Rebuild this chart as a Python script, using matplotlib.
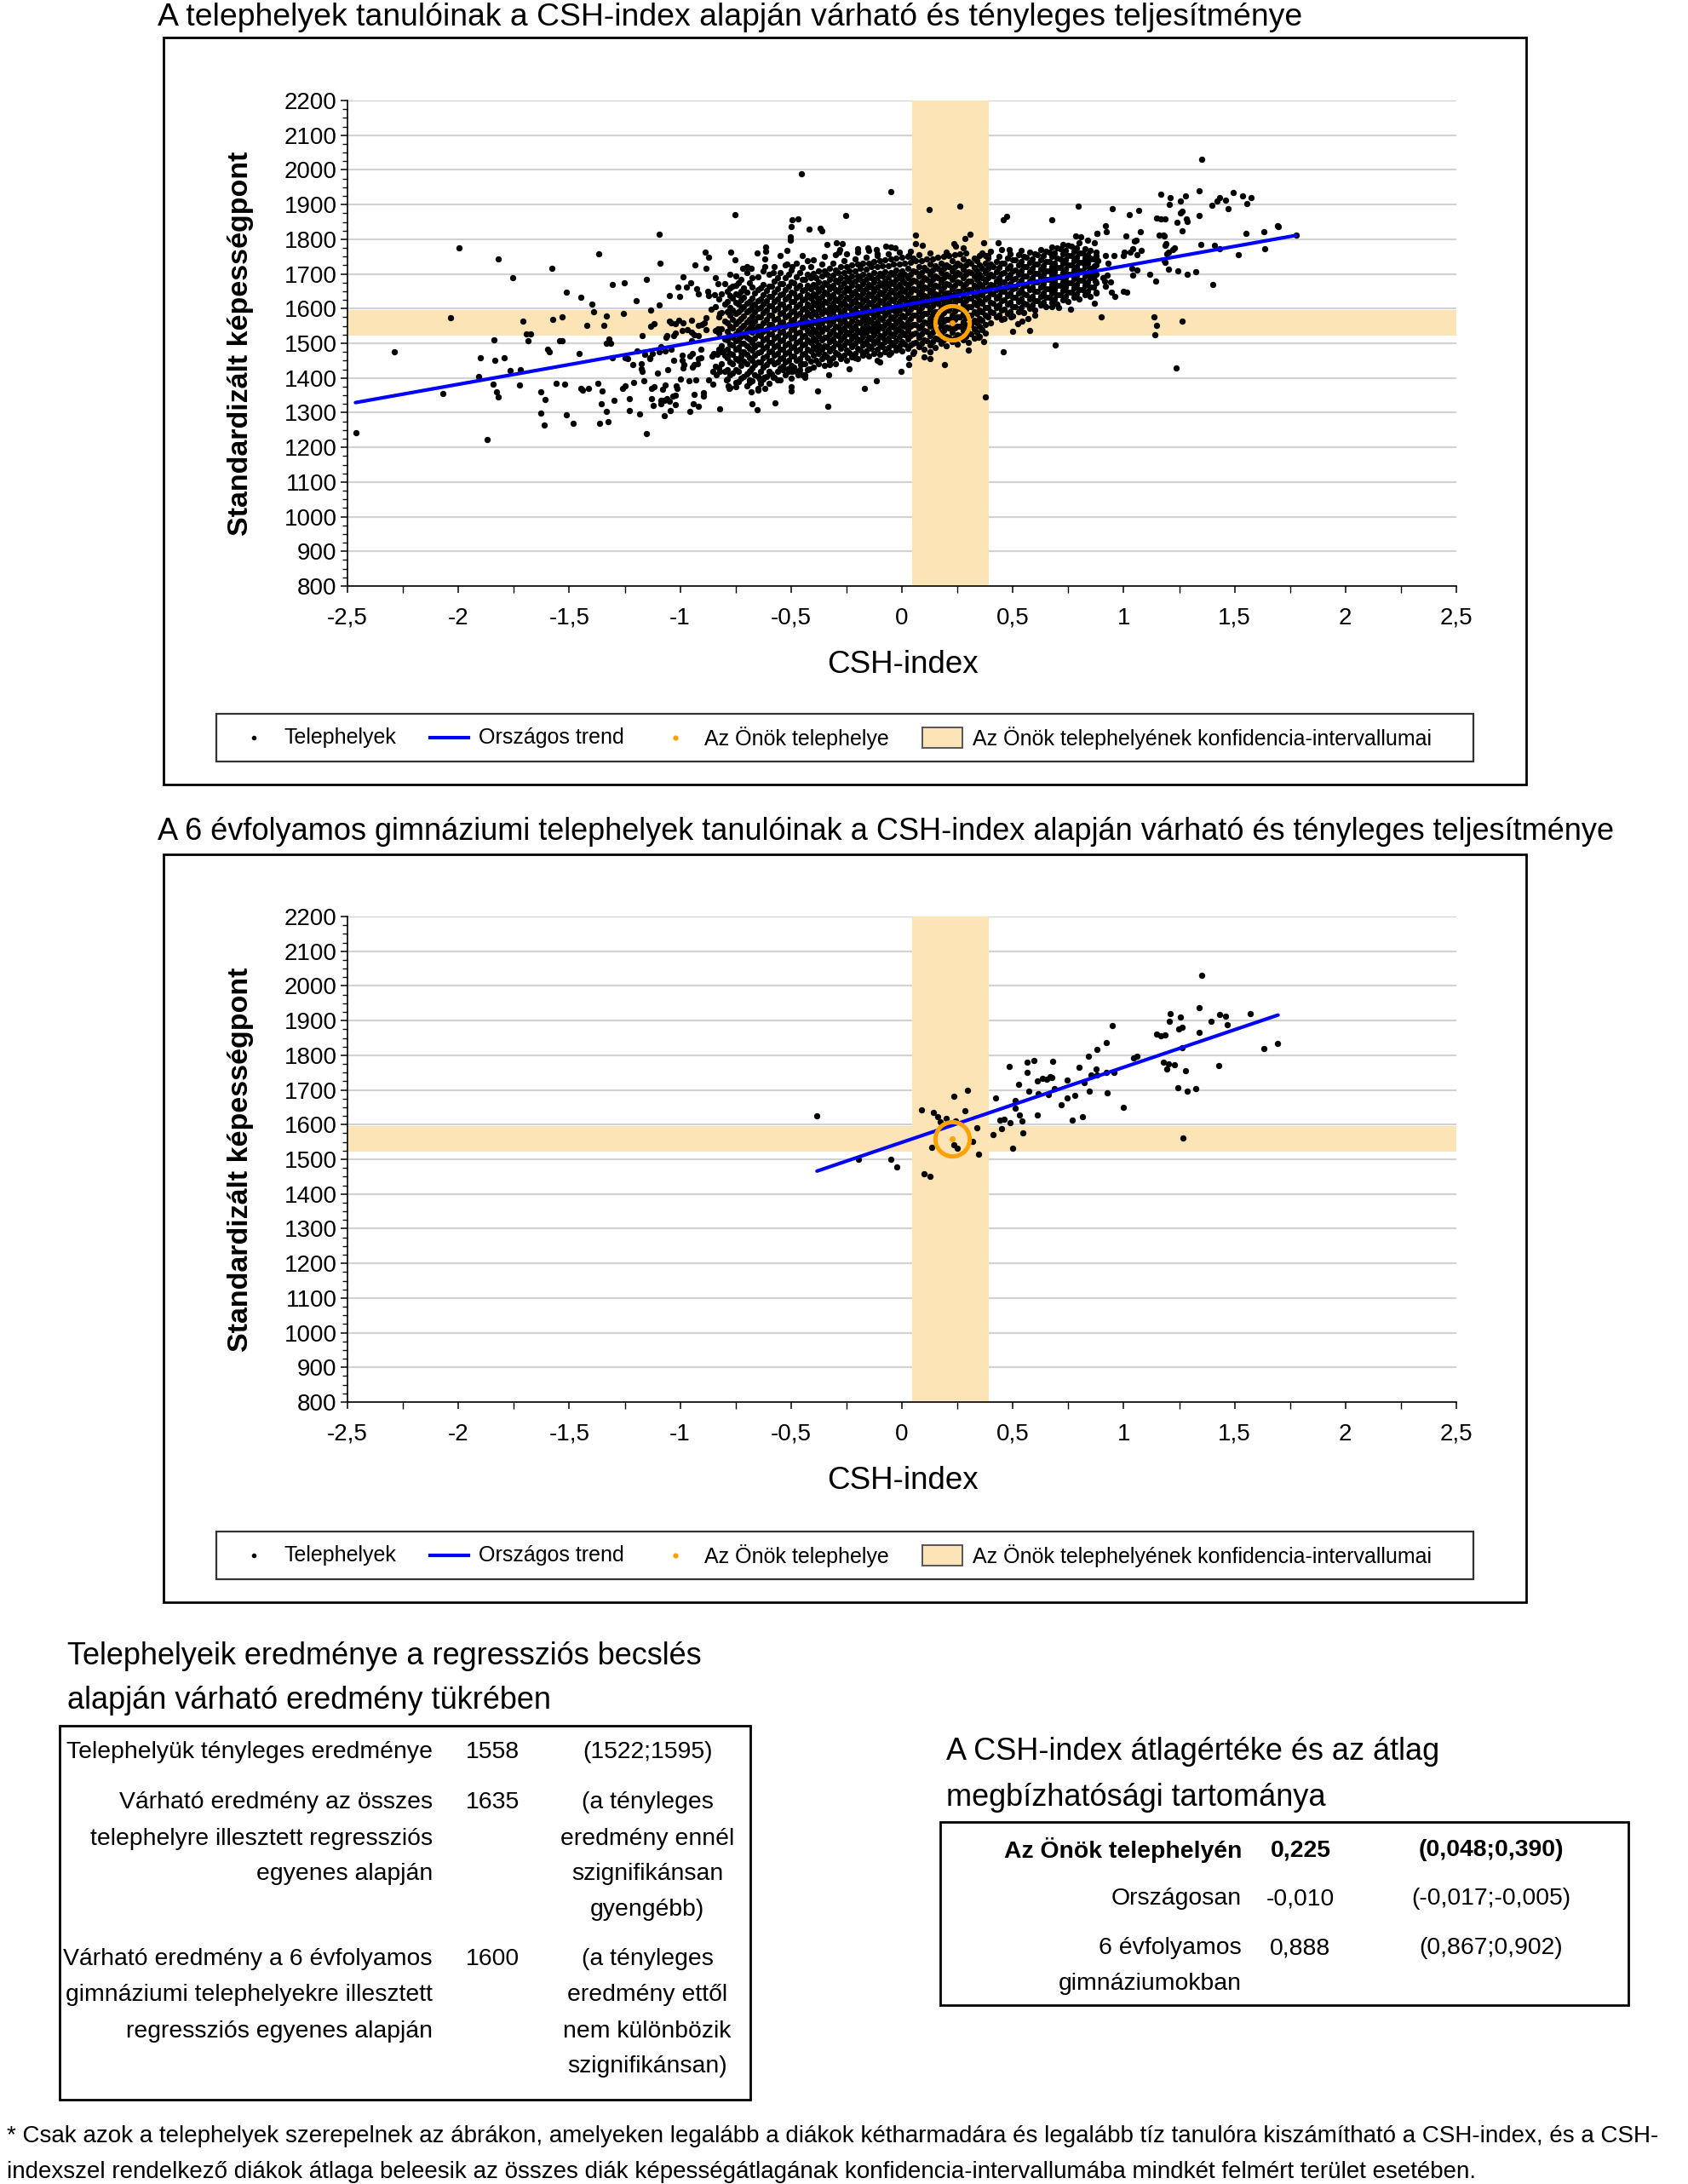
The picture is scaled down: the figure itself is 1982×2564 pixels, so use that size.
import matplotlib

matplotlib.use("Agg")
import matplotlib.pyplot as plt
from matplotlib.patches import Rectangle
from matplotlib.ticker import MultipleLocator, FuncFormatter

plt.rcParams["font.family"] = ["Liberation Sans", "DejaVu Sans"]

# ---- data ------------------------------------------------------------------
OWN_X, OWN_Y = 0.225, 1558          # the school's own site
CI_X = (0.048, 0.390)               # CSH-index confidence interval
CI_Y = (1522, 1595)                 # score confidence interval

trend_all_x = [-2.464, 1.777]       # national trend line end points
trend_all_y = [1329, 1811]
trend_gym_x = [-0.383, 1.696]       # 6-year gymnasium trend line
trend_gym_y = [1466, 1916]

sites_far_west = [
    (-1.997, 1775), (-1.820, 1742), (-1.756, 1688), (-2.035, 1573), (-1.708, 1563),
    (-1.692, 1528), (-1.676, 1528), (-1.687, 1508), (-1.839, 1509), (-2.290, 1475),
    (-1.902, 1458), (-1.834, 1452), (-1.795, 1459), (-1.767, 1422), (-1.721, 1424),
    (-1.910, 1403), (-1.843, 1383), (-1.724, 1379), (-2.070, 1355), (-1.827, 1360),
    (-1.822, 1346), (-2.460, 1243), (-1.870, 1223),
]

sites_west = [
    (-1.577, 1715), (-1.366, 1759), (-1.093, 1815), (-1.091, 1731), (-0.886, 1762),
    (-0.872, 1747), (-0.935, 1725), (-0.883, 1715), (-0.988, 1691), (-0.841, 1688),
    (-0.831, 1672), (-1.151, 1684), (-1.512, 1647), (-1.306, 1669), (-1.251, 1674),
    (-1.447, 1633), (-1.399, 1613), (-1.391, 1590), (-1.199, 1622), (-1.093, 1610),
    (-1.132, 1597), (-1.047, 1638), (-1.011, 1661), (-1.002, 1636), (-0.972, 1662),
    (-0.954, 1674), (-0.924, 1657), (-0.918, 1643), (-0.874, 1650), (-0.872, 1637),
    (-0.846, 1639), (-0.860, 1598), (-0.840, 1605), (-0.820, 1587), (-1.573, 1568),
    (-1.531, 1577), (-1.420, 1551), (-1.345, 1551), (-1.333, 1578), (-1.254, 1587),
    (-1.132, 1549), (-1.119, 1556), (-1.050, 1565), (-1.042, 1559), (-1.022, 1556),
    (-1.007, 1567), (-0.986, 1559), (-0.949, 1567), (-0.918, 1552), (-0.901, 1555),
    (-0.883, 1573), (-0.891, 1560), (-0.990, 1537), (-0.969, 1539), (-0.950, 1533),
    (-0.937, 1524), (-0.918, 1523), (-0.882, 1539), (-0.841, 1537), (-0.831, 1541),
    (-1.059, 1523), (-1.065, 1516), (-1.029, 1521), (-1.020, 1529), (-1.170, 1523),
    (-1.320, 1512), (-1.333, 1500), (-1.315, 1500), (-1.545, 1508), (-1.532, 1508),
    (-1.599, 1483), (-1.590, 1475), (-1.455, 1470), (-1.304, 1459), (-1.248, 1459),
    (-1.238, 1455), (-1.196, 1477), (-1.161, 1467), (-1.135, 1455), (-1.126, 1471),
    (-1.093, 1475), (-1.088, 1489), (-1.068, 1478), (-1.039, 1483), (-1.213, 1438),
    (-1.176, 1442), (-1.174, 1426), (-1.170, 1420), (-1.138, 1459), (-1.103, 1415),
    (-1.055, 1424), (-1.031, 1451), (-0.992, 1465), (-0.991, 1451), (-0.984, 1438),
    (-0.988, 1430), (-0.956, 1463), (-0.943, 1471), (-0.936, 1438), (-0.946, 1431),
    (-0.922, 1442), (-0.918, 1455), (-0.908, 1459), (-0.905, 1483), (-0.950, 1508),
    (-0.856, 1463), (-0.847, 1471), (-0.835, 1467), (-0.824, 1483), (-0.815, 1475),
    (-0.808, 1477), (-0.841, 1434), (-0.854, 1418), (-0.837, 1410), (-0.821, 1418),
    (-0.872, 1395), (-0.854, 1381), (-0.822, 1311), (-1.558, 1385), (-1.519, 1383),
    (-1.448, 1369), (-1.440, 1365), (-1.415, 1369), (-1.370, 1385), (-1.351, 1362),
    (-1.356, 1325), (-1.331, 1303), (-1.325, 1273), (-1.363, 1269), (-1.298, 1336),
    (-1.627, 1359), (-1.608, 1339), (-1.627, 1299), (-1.612, 1264), (-1.513, 1293),
    (-1.481, 1269), (-1.258, 1370), (-1.248, 1378), (-1.210, 1387), (-1.229, 1340),
    (-1.228, 1305), (-1.181, 1296), (-1.165, 1391), (-1.151, 1239), (-1.128, 1370),
    (-1.119, 1375), (-1.080, 1367), (-1.068, 1379), (-1.130, 1340), (-1.120, 1321),
    (-1.087, 1336), (-1.087, 1326), (-1.071, 1336), (-1.059, 1340), (-1.050, 1332),
    (-1.032, 1348), (-1.023, 1351), (-1.046, 1307), (-1.071, 1292), (-1.020, 1323),
    (-1.016, 1377), (-1.014, 1369), (-0.998, 1397), (-0.959, 1391), (-0.931, 1395),
    (-0.937, 1352), (-0.941, 1326), (-0.918, 1319), (-0.956, 1303), (-0.896, 1358),
    (-0.895, 1348),
]

sites_mid = [
    (-0.453, 1988), (-0.051, 1938), (-0.751, 1871), (-0.255, 1868), (-0.495, 1857),
    (-0.467, 1859), (-0.501, 1836), (-0.502, 1807), (-0.504, 1798), (-0.419, 1828),
    (-0.367, 1832), (-0.361, 1824), (-0.771, 1762), (-0.751, 1740), (-0.654, 1760),
    (-0.616, 1777), (-0.616, 1765), (-0.617, 1743), (-0.620, 1721), (-0.549, 1752),
    (-0.518, 1768), (-0.448, 1754), (-0.339, 1785), (-0.296, 1791), (-0.280, 1770),
    (-0.269, 1788), (-0.283, 1764), (-0.198, 1773), (-0.155, 1775), (-0.115, 1769),
    (-0.111, 1758), (-0.073, 1780), (-0.029, 1776), (0.029, 1754), (-0.718, 1715),
    (-0.700, 1720), (-0.680, 1717), (-0.579, 1705), (-0.495, 1721), (-0.517, 1729),
    (-0.675, 1326), (-0.652, 1309), (-0.572, 1329), (-0.334, 1319), (-0.380, 1362),
    (-0.501, 1362), (-0.498, 1375), (-0.170, 1370), (-0.116, 1393), (-0.004, 1420),
    (0.029, 1438), (-0.790, 1395), (-0.783, 1377), (-0.780, 1370), (-0.749, 1375),
    (-0.685, 1422), (-0.687, 1387), (-0.681, 1360), (-0.649, 1370), (-0.617, 1369),
    (-0.643, 1397), (-0.621, 1401), (-0.579, 1401), (-0.559, 1395), (-0.538, 1434),
    (-0.515, 1426), (-0.495, 1418), (-0.467, 1410), (-0.438, 1401), (-0.438, 1410),
    (-0.457, 1438), (-0.419, 1426), (-0.329, 1410), (-0.325, 1438), (-0.239, 1426),
    (-0.210, 1459), (-0.175, 1467), (-0.111, 1451), (-0.099, 1447), (-0.056, 1467),
    (-0.022, 1483),
]

sites_band = [
    (0.122, 1885), (0.262, 1896), (0.060, 1813), (0.063, 1787), (0.093, 1783),
    (0.234, 1787), (0.241, 1780), (0.285, 1801), (0.307, 1815), (0.369, 1791),
    (0.362, 1760), (0.375, 1752), (0.388, 1752), (0.193, 1438), (0.298, 1480),
    (0.375, 1346), (0.347, 1518), (0.369, 1505), (0.029, 1459), (0.055, 1475),
    (0.100, 1460), (0.125, 1455), (0.125, 1475), (0.458, 1856), (0.471, 1865),
    (0.676, 1856), (0.794, 1896), (0.691, 1494), (0.456, 1475), (0.500, 1534),
    (0.576, 1537), (0.522, 1557), (0.541, 1565), (0.567, 1572), (0.599, 1582),
    (0.461, 1572), (0.490, 1575), (0.759, 1598), (0.708, 1602), (0.676, 1606),
    (0.435, 1789), (0.484, 1770), (0.785, 1810), (0.808, 1807), (0.838, 1797),
    (0.878, 1817),
]

sites_east = [
    (1.353, 2030), (1.166, 1929), (1.210, 1921), (1.207, 1900), (1.277, 1926),
    (1.254, 1910), (1.256, 1877), (1.262, 1880), (1.339, 1940), (1.339, 1869),
    (1.396, 1899), (1.421, 1910), (1.434, 1920), (1.458, 1913), (1.493, 1934),
    (1.469, 1889), (1.537, 1925), (1.573, 1921), (1.555, 1904), (0.949, 1887),
    (1.024, 1872), (1.066, 1882), (1.149, 1862), (1.169, 1859), (1.185, 1859),
    (1.239, 1848), (1.281, 1859), (1.288, 1852), (1.262, 1824), (1.550, 1817),
    (1.632, 1822), (1.693, 1838), (1.635, 1772), (1.517, 1756), (1.402, 1669),
    (1.431, 1773), (1.409, 1783), (1.347, 1785), (1.288, 1700), (1.326, 1707),
    (1.245, 1708), (1.202, 1713), (1.185, 1733), (1.184, 1738), (1.194, 1758),
    (1.201, 1764), (1.230, 1775), (1.220, 1769), (1.188, 1783), (1.182, 1810),
    (1.160, 1813), (1.178, 1811), (1.192, 1787), (1.117, 1699), (1.144, 1679),
    (1.010, 1809), (1.047, 1795), (1.057, 1797), (1.074, 1822), (1.041, 1772),
    (1.030, 1764), (1.060, 1756), (1.080, 1768), (1.001, 1764), (0.997, 1752),
    (1.038, 1715), (1.061, 1712), (1.042, 1697), (0.998, 1651), (1.013, 1648),
    (0.956, 1753), (0.919, 1838), (0.922, 1822), (0.879, 1817), (0.868, 1791),
    (0.877, 1762), (0.849, 1746), (0.882, 1738), (0.877, 1747), (0.867, 1724),
    (0.919, 1754), (0.931, 1731), (0.849, 1705), (0.870, 1699), (0.908, 1688),
    (0.925, 1697), (0.873, 1679), (0.915, 1680), (0.942, 1676), (0.918, 1664),
    (0.946, 1647), (0.961, 1636), (0.876, 1645), (0.869, 1616), (0.900, 1577),
    (1.138, 1576), (1.148, 1552), (1.142, 1524), (1.265, 1565), (1.235, 1429),
    (1.697, 1836), (1.777, 1811),
]

# dense part of the cloud, read column by column (x, scores)
cloud_west = [
    (-0.825, (1430, 1478, 1530, 1575, 1628)),
    (-0.800, (1418, 1465, 1512, 1565, 1612, 1672)),
    (-0.775, (1372, 1408, 1447, 1470, 1498, 1522, 1548, 1580, 1603, 1638, 1660, 1700)),
    (-0.750, (1388, 1425, 1455, 1483, 1507, 1528, 1557, 1585, 1618, 1642, 1668, 1695)),
    (-0.725, (1400, 1435, 1462, 1475, 1500, 1520, 1545, 1572, 1598, 1625, 1650, 1683)),
    (-0.700, (1378, 1412, 1440, 1468, 1492, 1518, 1538, 1562, 1592, 1615, 1648, 1705)),
    (-0.675, (1392, 1428, 1450, 1480, 1503, 1532, 1555, 1578, 1606, 1630, 1662, 1688)),
    (-0.650, (1365, 1405, 1445, 1472, 1497, 1525, 1550, 1575, 1600, 1622, 1655, 1692)),
    (-0.625, (1398, 1432, 1458, 1486, 1510, 1535, 1560, 1588, 1612, 1640, 1670, 1710)),
    (-0.600, (1385, 1418, 1448, 1476, 1502, 1527, 1553, 1580, 1608, 1635, 1665, 1698)),
    (-0.575, (1402, 1440, 1465, 1490, 1515, 1542, 1568, 1595, 1620, 1648, 1680, 1720)),
    (-0.550, (1395, 1428, 1455, 1482, 1508, 1533, 1560, 1585, 1614, 1640, 1672, 1705)),
    (-0.525, (1410, 1445, 1470, 1496, 1522, 1548, 1575, 1600, 1628, 1655, 1688, 1725)),
    (-0.500, (1400, 1435, 1462, 1488, 1514, 1540, 1566, 1592, 1620, 1648, 1678, 1712)),
    (-0.475, (1418, 1450, 1478, 1503, 1530, 1555, 1580, 1606, 1632, 1660, 1692, 1730)),
    (-0.450, (1408, 1440, 1468, 1495, 1520, 1546, 1572, 1598, 1625, 1652, 1685, 1718)),
    (-0.425, (1425, 1458, 1484, 1510, 1536, 1562, 1588, 1614, 1640, 1668, 1700, 1738)),
]

cloud_centre = [
    (-0.400, (1432, 1465, 1490, 1515, 1540, 1565, 1590, 1617, 1643, 1670, 1702, 1740)),
    (-0.375, (1440, 1470, 1496, 1522, 1547, 1572, 1598, 1623, 1650, 1677, 1708)),
    (-0.350, (1435, 1467, 1493, 1518, 1544, 1570, 1595, 1620, 1647, 1675, 1710, 1750)),
    (-0.325, (1448, 1478, 1504, 1528, 1553, 1578, 1604, 1630, 1656, 1684, 1715)),
    (-0.300, (1442, 1473, 1500, 1525, 1550, 1576, 1602, 1628, 1654, 1682, 1712, 1755)),
    (-0.275, (1455, 1485, 1510, 1535, 1560, 1585, 1610, 1636, 1662, 1690, 1720)),
    (-0.250, (1450, 1480, 1506, 1532, 1557, 1582, 1607, 1633, 1660, 1688, 1722, 1758)),
    (-0.225, (1460, 1490, 1515, 1540, 1565, 1590, 1615, 1640, 1666, 1694, 1725)),
    (-0.200, (1455, 1486, 1512, 1537, 1562, 1588, 1613, 1638, 1665, 1693, 1728, 1762)),
    (-0.175, (1465, 1495, 1520, 1545, 1570, 1595, 1620, 1645, 1671, 1698, 1730)),
    (-0.150, (1462, 1492, 1518, 1543, 1568, 1593, 1618, 1643, 1670, 1697, 1732, 1768)),
    (-0.125, (1470, 1500, 1525, 1550, 1575, 1600, 1625, 1650, 1676, 1703, 1735)),
    (-0.100, (1468, 1497, 1522, 1548, 1573, 1598, 1623, 1648, 1675, 1702, 1738)),
    (-0.075, (1475, 1504, 1530, 1555, 1580, 1605, 1630, 1655, 1680, 1707, 1740)),
    (-0.050, (1472, 1502, 1527, 1552, 1577, 1602, 1628, 1653, 1678, 1705, 1742, 1778)),
    (-0.025, (1480, 1508, 1534, 1558, 1584, 1609, 1634, 1659, 1684, 1712, 1745)),
    (0.000, (1478, 1506, 1532, 1557, 1582, 1607, 1632, 1657, 1683, 1710, 1748)),
    (0.025, (1485, 1512, 1538, 1562, 1588, 1612, 1638, 1662, 1688, 1715, 1750)),
    (0.050, (1470, 1500, 1528, 1555, 1580, 1605, 1630, 1656, 1682, 1710, 1745)),
    (0.075, (1490, 1518, 1543, 1568, 1593, 1618, 1643, 1668, 1694, 1722, 1755)),
    (0.100, (1482, 1510, 1536, 1562, 1587, 1612, 1637, 1662, 1690, 1718)),
    (0.125, (1495, 1522, 1548, 1572, 1598, 1622, 1648, 1673, 1700, 1728, 1760)),
    (0.150, (1488, 1515, 1542, 1566, 1592, 1617, 1642, 1667, 1695, 1724)),
    (0.175, (1500, 1526, 1552, 1577, 1602, 1627, 1652, 1678, 1704, 1732)),
    (0.200, (1492, 1520, 1546, 1570, 1596, 1621, 1646, 1672, 1698, 1727, 1762)),
    (0.225, (1505, 1532, 1557, 1582, 1607, 1632, 1657, 1683, 1710, 1738)),
    (0.250, (1498, 1525, 1550, 1575, 1600, 1625, 1650, 1676, 1703, 1730)),
    (0.275, (1510, 1537, 1562, 1587, 1612, 1637, 1662, 1688, 1714, 1742, 1774)),
    (0.300, (1502, 1530, 1555, 1580, 1605, 1630, 1655, 1680, 1707, 1735)),
    (0.325, (1515, 1542, 1567, 1592, 1617, 1642, 1667, 1693, 1718, 1746)),
    (0.350, (1520, 1548, 1572, 1597, 1622, 1647, 1672, 1698, 1725, 1752)),
    (0.375, (1530, 1555, 1580, 1604, 1628, 1652, 1677, 1703, 1730)),
]

cloud_east = [
    (0.400, (1560, 1590, 1618, 1645, 1670, 1698, 1728, 1765)),
    (0.425, (1575, 1602, 1630, 1655, 1680, 1706, 1735)),
    (0.450, (1568, 1596, 1624, 1650, 1676, 1702, 1730, 1770)),
    (0.475, (1585, 1612, 1638, 1663, 1690, 1716, 1745)),
    (0.500, (1578, 1605, 1632, 1658, 1684, 1710, 1740)),
    (0.525, (1592, 1620, 1646, 1672, 1698, 1725, 1755)),
    (0.550, (1588, 1615, 1642, 1668, 1694, 1720, 1750)),
    (0.575, (1600, 1628, 1654, 1680, 1706, 1733, 1762)),
    (0.600, (1595, 1622, 1650, 1676, 1702, 1728, 1758)),
    (0.625, (1610, 1636, 1662, 1688, 1714, 1740, 1770)),
    (0.650, (1605, 1632, 1658, 1684, 1710, 1736, 1765)),
    (0.675, (1618, 1645, 1670, 1696, 1722, 1750, 1778)),
    (0.700, (1612, 1640, 1666, 1692, 1718, 1745, 1775)),
    (0.725, (1625, 1652, 1678, 1704, 1730, 1757, 1785)),
    (0.750, (1620, 1648, 1675, 1700, 1726, 1752, 1782)),
    (0.775, (1632, 1660, 1686, 1712, 1738, 1765)),
    (0.800, (1628, 1655, 1682, 1708, 1734, 1760, 1790)),
    (0.825, (1640, 1668, 1694, 1720, 1746, 1772)),
    (0.850, (1635, 1662, 1690, 1716, 1742, 1768)),
    (0.875, (1648, 1675, 1700, 1726, 1752)),
]

# the in-between columns that make the core of the cloud solid
cloud_fill = [
    (-0.8125, (1442, 1492, 1542, 1588, 1642)),
    (-0.7875, (1398, 1425, 1458, 1484, 1510, 1535, 1560, 1592, 1620, 1650)),
    (-0.7625, (1415, 1440, 1468, 1495, 1518, 1545, 1570, 1596, 1630, 1665)),
    (-0.7375, (1390, 1420, 1450, 1488, 1512, 1538, 1565, 1590, 1612, 1640, 1675)),
    (-0.7125, (1405, 1448, 1475, 1500, 1528, 1552, 1578, 1605, 1632, 1660)),
    (-0.6875, (1395, 1420, 1458, 1486, 1512, 1545, 1568, 1595, 1620, 1675)),
    (-0.6625, (1410, 1438, 1465, 1490, 1515, 1540, 1565, 1590, 1612, 1645)),
    (-0.6375, (1385, 1418, 1446, 1475, 1498, 1522, 1548, 1575, 1602, 1628, 1660)),
    (-0.6125, (1405, 1438, 1462, 1490, 1515, 1540, 1568, 1595, 1622, 1652)),
    (-0.5875, (1412, 1450, 1478, 1503, 1528, 1555, 1580, 1608, 1635, 1665)),
    (-0.5625, (1418, 1445, 1470, 1496, 1520, 1546, 1572, 1600, 1628, 1658, 1690)),
    (-0.5375, (1425, 1458, 1483, 1509, 1535, 1562, 1588, 1612, 1642, 1672)),
    (-0.5125, (1420, 1450, 1476, 1500, 1527, 1553, 1580, 1606, 1635, 1665, 1700)),
    (-0.4875, (1432, 1464, 1490, 1516, 1542, 1568, 1594, 1620, 1646, 1675)),
    (-0.4625, (1425, 1455, 1482, 1508, 1533, 1560, 1585, 1612, 1638, 1668, 1705)),
    (-0.4375, (1440, 1470, 1497, 1522, 1548, 1575, 1600, 1627, 1654, 1684)),
    (-0.4125, (1448, 1478, 1502, 1528, 1552, 1578, 1604, 1630, 1656, 1688, 1722)),
    (-0.3875, (1452, 1482, 1508, 1533, 1558, 1584, 1610, 1636, 1662, 1690)),
    (-0.3625, (1455, 1484, 1510, 1535, 1560, 1585, 1610, 1636, 1663, 1694, 1728)),
    (-0.3375, (1460, 1490, 1516, 1541, 1566, 1591, 1617, 1643, 1670, 1700)),
    (-0.3125, (1458, 1488, 1513, 1538, 1563, 1590, 1615, 1641, 1668, 1697, 1732)),
    (-0.2875, (1468, 1497, 1522, 1547, 1572, 1598, 1623, 1649, 1676, 1705)),
    (-0.2625, (1465, 1494, 1519, 1545, 1570, 1595, 1620, 1647, 1674, 1705, 1738)),
    (-0.2375, (1472, 1502, 1528, 1552, 1578, 1602, 1628, 1653, 1680, 1710)),
    (-0.2125, (1470, 1500, 1525, 1550, 1575, 1600, 1626, 1651, 1679, 1709, 1742)),
    (-0.1875, (1480, 1508, 1533, 1558, 1582, 1608, 1633, 1658, 1685, 1715)),
    (-0.1625, (1478, 1506, 1531, 1556, 1581, 1606, 1631, 1657, 1684, 1714, 1748)),
    (-0.1375, (1485, 1512, 1538, 1562, 1588, 1612, 1638, 1663, 1690, 1720)),
    (-0.1125, (1482, 1510, 1536, 1561, 1586, 1611, 1636, 1662, 1689, 1720, 1752)),
    (-0.0875, (1490, 1518, 1543, 1568, 1593, 1618, 1643, 1668, 1694, 1724)),
    (-0.0625, (1488, 1515, 1540, 1565, 1590, 1615, 1640, 1666, 1692, 1724, 1758)),
    (-0.0375, (1495, 1522, 1547, 1572, 1596, 1622, 1647, 1672, 1698, 1728)),
    (-0.0125, (1492, 1520, 1545, 1570, 1595, 1620, 1645, 1670, 1697, 1728, 1762)),
    (0.0125, (1498, 1525, 1550, 1575, 1600, 1625, 1650, 1675, 1700, 1732)),
    (0.0375, (1495, 1522, 1548, 1572, 1598, 1623, 1648, 1674, 1700, 1733, 1765)),
    (0.0625, (1502, 1530, 1555, 1580, 1605, 1630, 1655, 1680, 1706, 1738)),
    (0.0875, (1500, 1527, 1552, 1578, 1603, 1628, 1653, 1678, 1705, 1738)),
    (0.1125, (1508, 1535, 1560, 1585, 1610, 1635, 1660, 1685, 1712, 1742)),
    (0.1375, (1505, 1532, 1558, 1583, 1608, 1633, 1658, 1684, 1711, 1743)),
    (0.1625, (1512, 1540, 1565, 1590, 1615, 1640, 1665, 1690, 1716, 1748)),
    (0.1875, (1510, 1538, 1563, 1588, 1613, 1638, 1663, 1689, 1716, 1750)),
    (0.2125, (1518, 1545, 1570, 1595, 1620, 1645, 1670, 1695, 1722, 1752)),
    (0.2375, (1515, 1543, 1568, 1593, 1618, 1643, 1668, 1694, 1721, 1755)),
    (0.2625, (1522, 1550, 1575, 1600, 1625, 1650, 1675, 1700, 1727, 1758)),
    (0.2875, (1520, 1548, 1573, 1598, 1623, 1648, 1673, 1699, 1726, 1760)),
    (0.3125, (1528, 1555, 1580, 1605, 1630, 1655, 1680, 1705, 1732)),
    (0.3375, (1532, 1560, 1585, 1610, 1635, 1660, 1685, 1710, 1738)),
    (0.3625, (1540, 1566, 1592, 1616, 1640, 1665, 1690, 1716)),
    (0.3875, (1575, 1604, 1632, 1660, 1688, 1715, 1745)),
    (0.4125, (1588, 1616, 1642, 1668, 1694, 1722)),
    (0.4375, (1582, 1610, 1638, 1664, 1690, 1718, 1750)),
    (0.4625, (1598, 1625, 1650, 1676, 1703, 1730)),
    (0.4875, (1592, 1618, 1645, 1672, 1698, 1724, 1758)),
    (0.5125, (1606, 1633, 1660, 1686, 1712, 1740)),
    (0.5375, (1602, 1628, 1655, 1682, 1708, 1735, 1768)),
    (0.5625, (1614, 1641, 1668, 1694, 1720, 1748)),
    (0.5875, (1610, 1636, 1663, 1690, 1716, 1743)),
    (0.6125, (1622, 1650, 1676, 1702, 1728, 1756)),
    (0.6375, (1618, 1646, 1672, 1698, 1724, 1752)),
    (0.6625, (1632, 1658, 1684, 1710, 1736, 1764)),
    (0.6875, (1628, 1654, 1680, 1706, 1732, 1760)),
    (0.7125, (1640, 1666, 1692, 1718, 1744, 1772)),
    (0.7375, (1636, 1662, 1688, 1714, 1740, 1768)),
    (0.7625, (1648, 1674, 1700, 1726, 1752, 1780)),
    (0.7875, (1642, 1670, 1696, 1722, 1748, 1776)),
    (0.8125, (1655, 1682, 1708, 1734, 1760)),
    (0.8375, (1650, 1678, 1704, 1730, 1756)),
    (0.8625, (1662, 1690, 1716, 1742)),
]

gym_sites = [
    (-0.383, 1625), (-0.195, 1500), (-0.050, 1499), (-0.022, 1477), (0.101, 1458),
    (0.125, 1452), (0.088, 1642), (0.143, 1635), (0.163, 1623), (0.172, 1609),
    (0.200, 1618), (0.241, 1610), (0.236, 1682), (0.296, 1698), (0.283, 1640),
    (0.337, 1591), (0.319, 1552), (0.346, 1514), (0.133, 1535), (0.234, 1541),
    (0.250, 1532), (0.422, 1676), (0.483, 1768), (0.443, 1614), (0.462, 1616),
    (0.451, 1589), (0.412, 1572), (0.486, 1606), (0.509, 1647), (0.512, 1669),
    (0.526, 1717), (0.530, 1628), (0.540, 1610), (0.544, 1577), (0.501, 1531),
    (0.563, 1750), (0.566, 1779), (0.597, 1784), (0.571, 1697), (0.609, 1727),
    (0.634, 1733), (0.654, 1732), (0.667, 1738), (0.677, 1735), (0.680, 1783),
    (0.616, 1690), (0.609, 1627), (0.660, 1687), (0.686, 1703), (0.717, 1658),
    (0.746, 1728), (0.745, 1677), (0.778, 1683), (0.767, 1614), (0.815, 1622),
    (0.800, 1766), (0.823, 1721), (0.844, 1696), (0.840, 1796), (0.851, 1744),
    (0.877, 1760), (0.878, 1744), (0.881, 1816), (0.920, 1837), (0.949, 1885),
    (0.920, 1751), (0.956, 1750), (0.927, 1692), (0.997, 1650), (1.046, 1792),
    (1.060, 1796), (1.149, 1862), (1.166, 1857), (1.185, 1858), (1.179, 1780),
    (1.203, 1775), (1.229, 1772), (1.196, 1760), (1.210, 1919), (1.205, 1899),
    (1.254, 1909), (1.249, 1875), (1.262, 1880), (1.263, 1822), (1.278, 1756),
    (1.245, 1706), (1.288, 1697), (1.325, 1705), (1.266, 1561), (1.339, 1938),
    (1.353, 2030), (1.340, 1867), (1.395, 1898), (1.432, 1918), (1.458, 1912),
    (1.468, 1888), (1.429, 1771), (1.572, 1919), (1.631, 1820), (1.694, 1835),
]

x_ticks = [-2.5, -2, -1.5, -1, -0.5, 0, 0.5, 1, 1.5, 2, 2.5]

# ---- style -------------------------------------------------------------------
BAND = "#fde4b6"
ORANGE = "#ffa200"
BLUE = "#0000ff"
GRID = "#d2d2d2"
W, H = 1982, 2564
TITLE_FS = 26


def pairs(points):
    return [p[0] for p in points], [p[1] for p in points]


def columns(cols):
    xs, ys = [], []
    for x, col in cols:
        for y in col:
            xs.append(x)
            ys.append(y)
    return xs, ys


def comma(v, _pos=None):
    return f"{v:g}".replace(".", ",")


def chart(fig, top_px, xs, ys, tx, ty):
    left, right, bottom = 408, 1710, top_px + 570
    ax = fig.add_axes([left / W, 1 - bottom / H, (right - left) / W, 570 / H])
    ax.set_xlim(-2.5, 2.5)
    ax.set_ylim(800, 2200)
    ax.set_axisbelow(True)
    ax.yaxis.grid(True, color=GRID, lw=1.6)
    ax.axvspan(*CI_X, color=BAND, lw=0, zorder=1)
    ax.axhspan(*CI_Y, color=BAND, lw=0, zorder=1)
    ax.scatter(xs, ys, s=28, c="black", lw=0, zorder=2)
    ax.plot(tx, ty, color=BLUE, lw=3.0, solid_capstyle="round", zorder=3)
    ax.plot([OWN_X], [OWN_Y], marker="o", ms=29, mfc="none", mec=ORANGE, mew=3.6, zorder=4)
    ax.plot([OWN_X], [OWN_Y], marker="o", ms=4, mfc=ORANGE, mec=ORANGE, zorder=4)

    for s in ("top", "right"):
        ax.spines[s].set_visible(False)
    for s in ("left", "bottom"):
        ax.spines[s].set_color("black")
        ax.spines[s].set_linewidth(1.2)
    ax.yaxis.set_major_locator(MultipleLocator(100))
    ax.yaxis.set_minor_locator(MultipleLocator(25))
    ax.set_xticks(x_ticks)
    ax.xaxis.set_minor_locator(MultipleLocator(0.25))
    ax.xaxis.set_major_formatter(FuncFormatter(comma))
    ax.tick_params(axis="y", which="major", length=6, width=1.1, labelsize=20, pad=3)
    ax.tick_params(axis="y", which="minor", length=4, width=1.0)
    ax.tick_params(axis="x", which="major", length=6, width=1.1, labelsize=20, pad=12)
    ax.tick_params(axis="x", which="minor", length=6, width=1.0)
    return ax


def legend(ov, y):
    ov.add_patch(Rectangle((254, y - 28), 1476, 56, fill=False, ec="#333333", lw=1.6))
    ov.plot([298], [y], marker="o", ms=3, color="black")
    ov.text(333, y, "Telephelyek", fontsize=18, va="center")
    ov.plot([505, 550], [y, y], color=BLUE, lw=3)
    ov.text(562, y, "Országos trend", fontsize=18, va="center")
    ov.plot([793], [y], marker="o", ms=3.5, color=ORANGE)
    ov.text(827, y, "Az Önök telephelye", fontsize=18, va="center")
    ov.add_patch(Rectangle((1083, y - 12), 47, 24, fc=BAND, ec="#555555", lw=1.4))
    ov.text(1142, y, "Az Önök telephelyének konfidencia-intervallumai", fontsize=18, va="center")


fig = plt.figure(figsize=(W / 100, H / 100), dpi=100)
fig.patch.set_facecolor("white")

ov = fig.add_axes([0, 0, 1, 1], zorder=0)
ov.set_xlim(0, W)
ov.set_ylim(H, 0)
ov.axis("off")

all_x, all_y = [], []
for grp in (sites_far_west, sites_west, sites_mid, sites_band, sites_east):
    gx, gy = pairs(grp)
    all_x += gx
    all_y += gy
for grp in (cloud_west, cloud_centre, cloud_east, cloud_fill):
    gx, gy = columns(grp)
    all_x += gx
    all_y += gy
gym_x, gym_y = pairs(gym_sites)

# ---- 1. all sites ---------------------------------------------------------------
ov.text(185, 20, "A telephelyek tanulóinak a CSH-index alapján várható és tényleges teljesítménye",
        fontsize=26.9, va="center")
ov.add_patch(Rectangle((192, 44), 1600, 877, fill=False, ec="black", lw=2))
chart(fig, 118, all_x, all_y, trend_all_x, trend_all_y)
ov.text(283, 403, "Standardizált képességpont", fontsize=24.5, fontweight="bold",
        rotation=90, ha="center", va="center")
ov.text(1060, 781, "CSH-index", fontsize=26.5, ha="center", va="center")
legend(ov, 866)

# ---- 2. six-year gymnasiums ------------------------------------------------------
ov.text(185, 976, "A 6 évfolyamos gimnáziumi telephelyek tanulóinak a CSH-index alapján várható és tényleges teljesítménye",
        fontsize=TITLE_FS, va="center")
ov.add_patch(Rectangle((192, 1003), 1600, 878, fill=False, ec="black", lw=2))
chart(fig, 1076, gym_x, gym_y, trend_gym_x, trend_gym_y)
ov.text(283, 1361, "Standardizált képességpont", fontsize=24.5, fontweight="bold",
        rotation=90, ha="center", va="center")
ov.text(1060, 1739, "CSH-index", fontsize=26.5, ha="center", va="center")
legend(ov, 1826)

# ---- tables --------------------------------------------------------------------------
ov.text(79, 1944, "Telephelyeik eredménye a regressziós becslés", fontsize=TITLE_FS, va="center")
ov.text(79, 1997, "alapján várható eredmény tükrében", fontsize=TITLE_FS, va="center")
ov.add_patch(Rectangle((70, 2026), 811, 439, fill=False, ec="black", lw=2))

left_rows = [
    (2057, "Telephelyük tényleges eredménye", "1558", "(1522;1595)"),
    (2116, "Várható eredmény az összes", "1635", "(a tényleges"),
    (2159, "telephelyre illesztett regressziós", "", "eredmény ennél"),
    (2200, "egyenes alapján", "", "szignifikánsan"),
    (2242, "", "", "gyengébb)"),
    (2300, "Várható eredmény a 6 évfolyamos", "1600", "(a tényleges"),
    (2342, "gimnáziumi telephelyekre illesztett", "", "eredmény ettől"),
    (2385, "regressziós egyenes alapján", "", "nem különbözik"),
    (2426, "", "", "szignifikánsan)"),
]
for y, lab, num, note in left_rows:
    ov.text(508, y, lab, fontsize=20.4, ha="right", va="center")
    ov.text(547, y, num, fontsize=20.4, ha="left", va="center")
    ov.text(760, y, note, fontsize=20.4, ha="center", va="center")

ov.text(1111, 2057, "A CSH-index átlagértéke és az átlag", fontsize=TITLE_FS, va="center")
ov.text(1111, 2110, "megbízhatósági tartománya", fontsize=TITLE_FS, va="center")
ov.add_patch(Rectangle((1104, 2139), 808, 215, fill=False, ec="black", lw=2))

right_rows = [
    (2172, "Az Önök telephelyén", "0,225", "(0,048;0,390)", "bold"),
    (2229, "Országosan", "-0,010", "(-0,017;-0,005)", "normal"),
    (2287, "6 évfolyamos", "0,888", "(0,867;0,902)", "normal"),
    (2329, "gimnáziumokban", "", "", "normal"),
]
for y, lab, num, ci, wt in right_rows:
    ov.text(1458, y, lab, fontsize=20.4, ha="right", va="center", fontweight=wt)
    ov.text(1527, y, num, fontsize=20.4, ha="center", va="center", fontweight=wt)
    ov.text(1751, y, ci, fontsize=20.4, ha="center", va="center", fontweight=wt)

ov.text(8, 2508, "* Csak azok a telephelyek szerepelnek az ábrákon, amelyeken legalább a diákok kétharmadára "
        "és legalább tíz tanulóra kiszámítható a CSH-index, és a CSH-", fontsize=20, va="center")
ov.text(8, 2550, "indexszel rendelkező diákok átlaga beleesik az összes diák képességátlagának "
        "konfidencia-intervallumába mindkét felmért terület esetében.", fontsize=20, va="center")

fig.savefig("out.png", dpi=100, facecolor="white")
plt.close(fig)
